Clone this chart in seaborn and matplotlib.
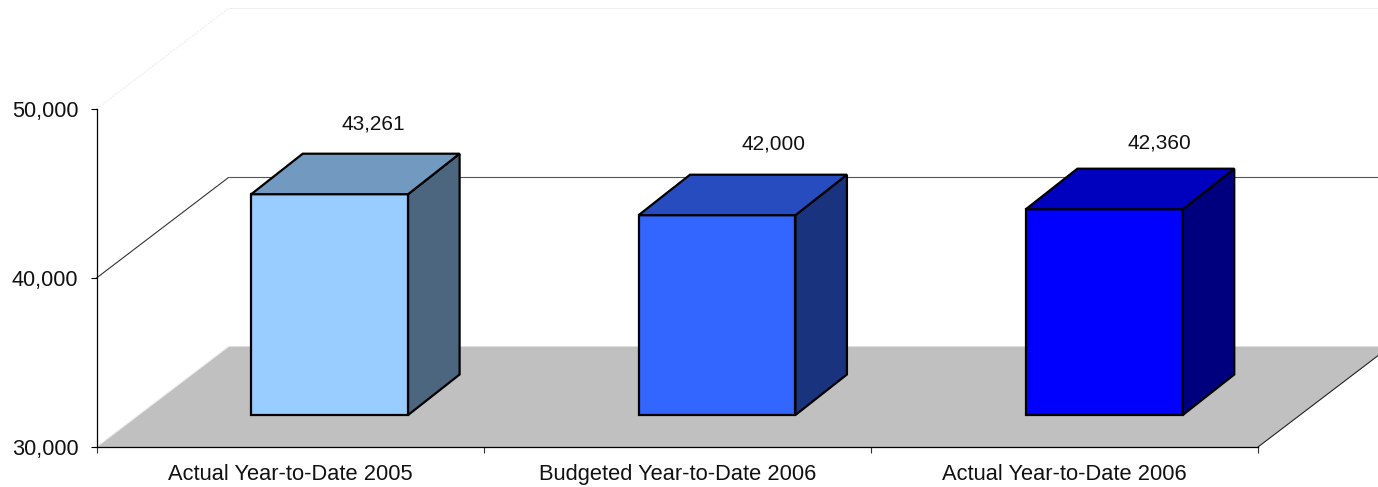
import matplotlib
matplotlib.use("Agg")
import matplotlib.pyplot as plt
from matplotlib.patches import Polygon
from matplotlib.transforms import IdentityTransform
from matplotlib.ticker import FuncFormatter
import seaborn as sns
import pandas as pd

categories = ["Actual Year-to-Date 2005", "Budgeted Year-to-Date 2006", "Actual Year-to-Date 2006"]
values = [43261, 42000, 42360]
value_labels = ["43,261", "42,000", "42,360"]
y_ticks = [30000, 40000, 50000]

front_colors = ["#99CCFF", "#3366FF", "#0000FF"]
top_colors = ["#7299BF", "#264CBF", "#0000BF"]
side_colors = ["#4D667F", "#19337F", "#00007F"]

W, H = 1378, 487
sns.set_theme(style="white")
plt.rcParams["font.family"] = ["Liberation Sans", "DejaVu Sans"]
FS = 15
DARK = "#111111"

fig = plt.figure(figsize=(W / 100, H / 100), dpi=100, facecolor="white")


def rect(left, top, right, bottom):
    return [left / W, 1 - bottom / H, (right - left) / W, (bottom - top) / H]


# Front plane of the chart: axis lines, ticks, labels
ax = fig.add_axes(rect(96.5, 109, 1258, 447))
ax.set_xlim(-0.5, 2.5)
ax.set_ylim(y_ticks[0], y_ticks[-1])
ax.patch.set_alpha(0)
for s in ["top", "right"]:
    ax.spines[s].set_visible(False)
for s in ["left", "bottom"]:
    ax.spines[s].set_color("black")
    ax.spines[s].set_linewidth(0.9)
ax.set_yticks(y_ticks)
ax.yaxis.set_major_formatter(FuncFormatter(lambda v, _: f"{int(v):,}"))
ax.tick_params(axis="y", which="major", left=True, length=4.5, width=0.8, color="black",
               pad=8.5, labelsize=15.6, labelcolor=DARK)
ax.set_xticks([-0.5, 0.5, 1.5, 2.5])
ax.set_xticklabels([])
ax.set_xticks(range(len(categories)), labels=categories, minor=True)
ax.tick_params(axis="x", which="major", bottom=True, length=4.5, width=0.8, color="#333333")
ax.tick_params(axis="x", which="minor", bottom=False, length=0, pad=12, labelsize=15.75, labelcolor=DARK)

# Depth of the 3-D box, as a display-space shift of the front plane
DX, DY = 132, 100.5
fig.canvas.draw()
to_disp = ax.transData.transform
identity = IdentityTransform()


def disp(x, y, depth=0.0):
    px, py = to_disp((x, y))
    return (px + DX * depth, py + DY * depth)


far_right = W + 50
# Floor
f0, f1 = disp(-0.5, y_ticks[0]), disp(2.5, y_ticks[0])
f2, f3 = disp(2.5, y_ticks[0], 1), disp(-0.5, y_ticks[0], 1)
fig.add_artist(Polygon([f0, f1, f2, f3], closed=True, transform=identity, facecolor="#C0C0C0",
                       edgecolor="none", zorder=-3))
fig.add_artist(plt.Line2D([f1[0], f2[0]], [f1[1], f2[1]], transform=identity, color="#222222", lw=0.8, zorder=-2))
fig.add_artist(plt.Line2D([f0[0], f3[0]], [f0[1], f3[1]], transform=identity, color="#EEEEEE", lw=0.8, zorder=-2))

# Wall lines for the upper ticks
for val, col, ls, lw in [(y_ticks[1], "#333333", "-", 0.8), (y_ticks[2], "#EEEEEE", (0, (2, 1)), 0.8)]:
    a = disp(-0.5, val)
    b = disp(-0.5, val, 1)
    fig.add_artist(plt.Line2D([a[0], b[0]], [a[1], b[1]], transform=identity, color=col, lw=lw, ls=ls, zorder=-2))
    fig.add_artist(plt.Line2D([b[0], far_right], [b[1], b[1]], transform=identity,
                              color="#555555" if val == y_ticks[1] else col, lw=lw, zorder=-2))

# Bars sit part-way into the box: their own axes with a slightly smaller scale
bax = fig.add_axes(rect(136, 82, 1298, 415))
bax.patch.set_alpha(0)
df = pd.DataFrame({"category": categories, "value": values})
sns.barplot(data=df, x="category", y="value", hue="category", palette=front_colors, dodge=False,
            saturation=1, legend=False, width=0.405, edgecolor="black", linewidth=1.6, ax=bax, zorder=3)
bax.set_xlim(-0.5, 2.5)
bax.set_ylim(y_ticks[0], y_ticks[-1])
bax.axis("off")
# The value axis starts at the lowest tick: bars rise from there
for p in bax.patches:
    top_value = p.get_y() + p.get_height()
    p.set_y(y_ticks[0])
    p.set_height(top_value - y_ticks[0])
    p.set_clip_on(False)
fig.canvas.draw()

BX, BY = 51.5, 40.5
label_lift = [70, 71, 66]
label_shift = [44, 56, 55]
for patch, side, top, text, lift, shift in zip(bax.patches, side_colors, top_colors, value_labels, label_lift, label_shift):
    x0, x1 = patch.get_x(), patch.get_x() + patch.get_width()
    y1 = patch.get_y() + patch.get_height()
    (px0, py1) = bax.transData.transform((x0, y1))
    (px1, py0) = bax.transData.transform((x1, y_ticks[0]))
    side_face = [(px1, py0), (px1 + BX, py0 + BY), (px1 + BX, py1 + BY), (px1, py1)]
    top_face = [(px0, py1), (px1, py1), (px1 + BX, py1 + BY), (px0 + BX, py1 + BY)]
    for pts, col in ((side_face, side), (top_face, top)):
        fig.add_artist(Polygon(pts, closed=True, transform=identity, facecolor=col, edgecolor="black",
                               linewidth=1.6, joinstyle="miter", zorder=1))
    bax.annotate(text, xy=((x0 + x1) / 2, y1), xycoords="data",
                 xytext=(shift * 0.72, lift * 0.72), textcoords="offset points",
                 ha="center", va="center", fontsize=FS, color=DARK, annotation_clip=False)

fig.savefig("out.png", dpi=100, facecolor="white")
